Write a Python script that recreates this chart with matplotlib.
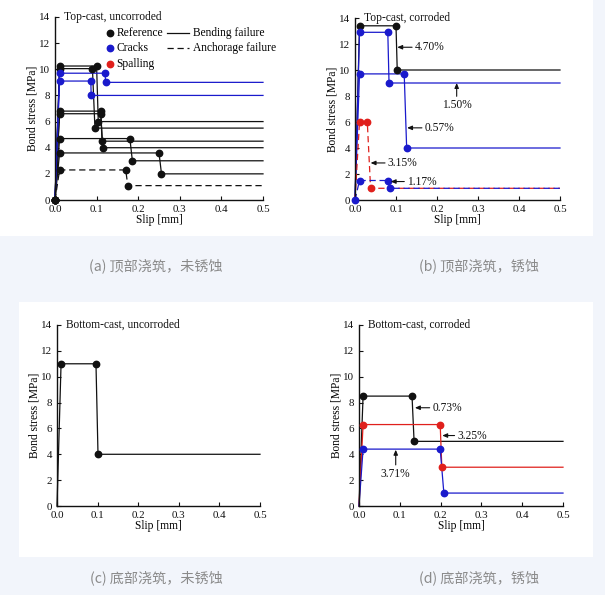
import matplotlib
matplotlib.use("Agg")
import matplotlib.pyplot as plt
from matplotlib.patches import Rectangle

# ---------------- data ----------------
# Panel (a) top-cast, uncorroded
a_ref1_x = [0, 0.011, 0.100, 0.104, 0.5]; a_ref1_y = [0, 10.25, 10.25, 6.0, 6.0]
a_ref2_x = [0, 0.011, 0.090, 0.096, 0.5]; a_ref2_y = [0, 10.05, 10.05, 5.5, 5.5]
a_ref3_x = [0, 0.011, 0.110, 0.113, 0.5]; a_ref3_y = [0, 6.8, 6.8, 4.5, 4.5]
a_ref4_x = [0, 0.011, 0.110, 0.115, 0.5]; a_ref4_y = [0, 6.6, 6.6, 4.0, 4.0]
a_ref5_x = [0, 0.011, 0.180, 0.186, 0.5]; a_ref5_y = [0, 4.7, 4.7, 3.0, 3.0]
a_ref6_x = [0, 0.011, 0.250, 0.256, 0.5]; a_ref6_y = [0, 3.6, 3.6, 2.0, 2.0]
a_anc_x = [0, 0.011, 0.170, 0.175, 0.5]; a_anc_y = [0, 2.3, 2.3, 1.1, 1.1]
a_crk1_x = [0, 0.011, 0.120, 0.122, 0.5]; a_crk1_y = [0, 9.7, 9.7, 9.0, 9.0]
a_crk2_x = [0, 0.011, 0.086, 0.087, 0.5]; a_crk2_y = [0, 9.1, 9.1, 8.0, 8.0]

# Panel (b) top-cast, corroded
b_470_x = [0, 0.011, 0.100, 0.103, 0.5]; b_470_y = [0, 13.4, 13.4, 10.0, 10.0]
b_150_x = [0, 0.011, 0.080, 0.083, 0.5]; b_150_y = [0, 12.9, 12.9, 9.0, 9.0]
b_057_x = [0, 0.011, 0.120, 0.126, 0.5]; b_057_y = [0, 9.7, 9.7, 4.0, 4.0]
b_117_x = [0, 0.011, 0.080, 0.085, 0.5]; b_117_y = [0, 1.5, 1.5, 0.9, 0.9]
b_315_x = [0, 0.011, 0.030, 0.038, 0.5]; b_315_y = [0, 6.0, 6.0, 0.9, 0.9]

# Panel (c) bottom-cast, uncorroded
c_ref_x = [0, 0.010, 0.096, 0.101, 0.5]; c_ref_y = [0, 11.0, 11.0, 4.0, 4.0]

# Panel (d) bottom-cast, corroded
d_073_x = [0, 0.010, 0.130, 0.135, 0.5]; d_073_y = [0, 8.5, 8.5, 5.0, 5.0]
d_325_x = [0, 0.010, 0.199, 0.203, 0.5]; d_325_y = [0, 6.3, 6.3, 3.0, 3.0]
d_371_x = [0, 0.010, 0.199, 0.208, 0.5]; d_371_y = [0, 4.4, 4.4, 1.0, 1.0]

x_ticks = [0.0, 0.1, 0.2, 0.3, 0.4, 0.5]
y_ticks = [0, 2, 4, 6, 8, 10, 12, 14]
titles = ["Top-cast, uncorroded", "Top-cast, corroded",
          "Bottom-cast, uncorroded", "Bottom-cast, corroded"]
captions = ["(a) 顶部浇筑，未锈蚀", "(b) 顶部浇筑，锈蚀",
            "(c) 底部浇筑，未锈蚀", "(d) 底部浇筑，锈蚀"]

# ---------------- style ----------------
SERIF = "Liberation Serif"
BLK = "#111111"
BLU = "#1a1acc"
RED = "#e0201c"
FS = 8.3
LW = 0.9
MS = 4.6

fig = plt.figure(figsize=(6.05, 5.95), dpi=100)
fig.patch.set_facecolor("#f2f5fb")
W, H = 605, 595


def px_rect(x0, y0, x1, y1, color="white"):
    fig.patches.append(Rectangle((x0 / W, 1 - y1 / H), (x1 - x0) / W, (y1 - y0) / H,
                                 transform=fig.transFigure, facecolor=color,
                                 edgecolor="none", zorder=-5))


px_rect(0, 0, 593, 236)
px_rect(19, 302, 593, 557)


def make_ax(x0, y0, x1, y1):
    ax = fig.add_axes([x0 / W, 1 - y1 / H, (x1 - x0) / W, (y1 - y0) / H])
    ax.set_zorder(2)
    ax.set_xlim(0, 0.5)
    ax.set_ylim(0, 14)
    ax.patch.set_visible(False)
    for s in ["top", "right"]:
        ax.spines[s].set_visible(False)
    for s in ["left", "bottom"]:
        ax.spines[s].set_linewidth(1.0)
        ax.spines[s].set_color(BLK)
    ax.set_xticks(x_ticks)
    ax.set_xticklabels([f"{v:.1f}" for v in x_ticks])
    ax.set_yticks(y_ticks)
    ax.set_yticklabels([str(v) for v in y_ticks])
    ax.tick_params(direction="in", length=3, width=0.8, labelsize=7.9, colors=BLK)
    ax.tick_params(axis="x", pad=3.5)
    ax.tick_params(axis="y", pad=3.5)
    for lab in ax.get_xticklabels() + ax.get_yticklabels():
        lab.set_fontfamily(SERIF)
    ax.set_xlabel("Slip [mm]", fontfamily=SERIF, fontsize=FS, labelpad=0)
    ax.set_ylabel("Bond stress [MPa]", fontfamily=SERIF, fontsize=FS, labelpad=0.5)
    return ax


def curve(ax, x, y, color, ls="-", origin_marker=True):
    ax.plot(x, y, color=color, lw=LW, ls=ls, dashes=(5, 3) if ls == "--" else (None, None),
            clip_on=False, zorder=2)
    idx = [0, 1, 2, 3] if origin_marker else [1, 2, 3]
    ax.plot([x[i] for i in idx], [y[i] for i in idx], ls="none", marker="o",
            ms=MS, color=color, clip_on=False, zorder=3)


def note(ax, text, xy, xytext, ha="left", va="center"):
    ax.annotate(text, xy=xy, xytext=xytext, fontfamily=SERIF, fontsize=FS,
                ha=ha, va=va, color=BLK,
                arrowprops=dict(arrowstyle="-|>,head_length=0.35,head_width=0.15",
                                color=BLK, lw=0.8, shrinkA=0, shrinkB=0))


# (a)
axa = make_ax(55, 17, 263, 200)
for xs, ys in [(a_ref1_x, a_ref1_y), (a_ref2_x, a_ref2_y), (a_ref3_x, a_ref3_y),
               (a_ref4_x, a_ref4_y), (a_ref5_x, a_ref5_y), (a_ref6_x, a_ref6_y)]:
    curve(axa, xs, ys, BLK)
curve(axa, a_anc_x, a_anc_y, BLK, ls="--")
curve(axa, a_crk1_x, a_crk1_y, BLU, origin_marker=False)
curve(axa, a_crk2_x, a_crk2_y, BLU, origin_marker=False)
# legend (manual)
tr = axa.transAxes
for i, (lab, col) in enumerate([("Reference", BLK), ("Cracks", BLU), ("Spalling", RED)]):
    yy = 0.915 - i * 0.087
    axa.plot([0.266], [yy], marker="o", ms=MS, color=col, transform=tr, clip_on=False)
    axa.text(0.295, yy, lab, transform=tr, fontfamily=SERIF, fontsize=FS, va="center")
axa.plot([0.54, 0.645], [0.915, 0.915], color=BLK, lw=LW, transform=tr, clip_on=False)
axa.text(0.665, 0.915, "Bending failure", transform=tr, fontfamily=SERIF, fontsize=FS, va="center")
axa.plot([0.54, 0.645], [0.828, 0.828], color=BLK, lw=LW, ls="--", dashes=(5, 3),
         transform=tr, clip_on=False)
axa.text(0.665, 0.828, "Anchorage failure", transform=tr, fontfamily=SERIF, fontsize=FS, va="center")

# (b)
axb = make_ax(355, 18, 560, 200)
curve(axb, b_470_x, b_470_y, BLK, origin_marker=False)
curve(axb, b_150_x, b_150_y, BLU, origin_marker=False)
curve(axb, b_057_x, b_057_y, BLU)
curve(axb, b_315_x, b_315_y, RED, ls="--", origin_marker=False)
curve(axb, b_117_x, b_117_y, BLU, ls="--", origin_marker=False)
note(axb, "4.70%", (0.103, 11.75), (0.146, 11.75))
note(axb, "1.50%", (0.248, 9.0), (0.248, 7.3), ha="center", va="center")
note(axb, "0.57%", (0.127, 5.55), (0.17, 5.55))
note(axb, "3.15%", (0.038, 2.85), (0.08, 2.85))
note(axb, "1.17%", (0.087, 1.42), (0.127, 1.42))

# (c)
axc = make_ax(57, 325, 260, 506)
curve(axc, c_ref_x, c_ref_y, BLK, origin_marker=False)

# (d)
axd = make_ax(359, 325, 563, 506)
curve(axd, d_073_x, d_073_y, BLK, origin_marker=False)
curve(axd, d_325_x, d_325_y, RED, origin_marker=False)
curve(axd, d_371_x, d_371_y, BLU, origin_marker=False)
note(axd, "0.73%", (0.137, 7.6), (0.18, 7.6))
note(axd, "3.25%", (0.204, 5.45), (0.241, 5.45))
note(axd, "3.71%", (0.09, 4.35), (0.09, 2.5), ha="center", va="center")

for ax, t in zip([axa, axb, axc, axd], titles):
    ax.text(0.022, 14, t, fontfamily=SERIF, fontsize=FS, va="center", ha="left",
            color=BLK, clip_on=False)

for (cx, cy), cap in zip([(156, 266), (479, 266), (156, 578), (479, 578)], captions):
    fig.text(cx / W, 1 - cy / H, cap, ha="center", va="center", fontsize=10.2,
             color="#8a8a8a", family=["Noto Sans CJK SC", "DejaVu Sans"])

fig.savefig("out.png", dpi=100, facecolor=fig.get_facecolor())
